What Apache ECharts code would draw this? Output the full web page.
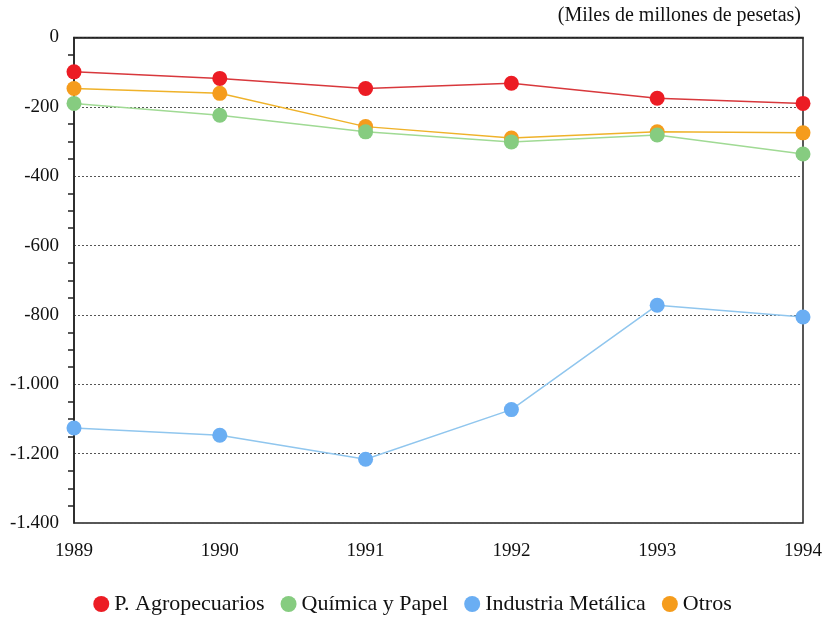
<!DOCTYPE html>
<html>
<head>
<meta charset="utf-8">
<script src="https://cdn.jsdelivr.net/npm/echarts@6/dist/echarts.min.js"></script>
<style>
  html, body { margin: 0; padding: 0; background: #fff; }
  #chart { width: 825px; height: 620px; }
</style>
</head>
<body>
<div id="chart"></div>
<script>
const years = ["1989", "1990", "1991", "1992", "1993", "1994"];
const agropecuarios = [-99, -118, -147, -132, -175, -190];
const quimicaPapel = [-190, -224, -272, -301, -281, -336];
const industriaMetalica = [-1126, -1147, -1216, -1073, -772, -806];
const otros = [-147, -161, -257, -290, -272, -275];

const serif = "Liberation Serif";

function fmt(v) {
  // miles con punto: -1.000
  const s = Math.abs(v).toString().replace(/\B(?=(\d{3})+(?!\d))/g, ".");
  return (v < 0 ? "-" : "") + s;
}

function line(name, data, color, lineColor, z) {
  return {
    name: name,
    type: "line",
    data: data,
    z: z,
    symbol: "circle",
    symbolSize: 15,
    itemStyle: { color: color },
    lineStyle: { color: lineColor, width: 1.5 }
  };
}

const chart = echarts.init(document.getElementById("chart"));
chart.setOption({
  animation: false,
  textStyle: { fontFamily: serif },
  grid: { left: 74, right: 22, top: 37.5, bottom: 97, show: true, borderColor: "#222", borderWidth: 1.5 },
  graphic: [{
    type: "text",
    right: 24,
    top: 6,
    style: { text: "(Miles de millones de pesetas)", font: "20px " + serif, fill: "#111" }
  }],
  legend: {
    bottom: 0,
    left: "center",
    icon: "circle",
    itemWidth: 16,
    itemHeight: 16,
    itemGap: 16,
    data: ["P. Agropecuarios", "Química y Papel", "Industria Metálica", "Otros"],
    textStyle: { fontFamily: serif, fontSize: 22, color: "#111" }
  },
  xAxis: {
    type: "category",
    data: years,
    boundaryGap: false,
    axisLine: { lineStyle: { color: "#222", width: 1.5 } },
    axisTick: { show: false },
    axisLabel: { fontFamily: serif, fontSize: 19, color: "#111", margin: 19 }
  },
  yAxis: {
    type: "value",
    min: -1400,
    max: 0,
    interval: 200,
    axisLine: { show: true, lineStyle: { color: "#222", width: 1.5 } },
    axisTick: { show: false },
    minorTick: { show: true, splitNumber: 4, length: 6, lineStyle: { color: "#222", width: 1.5 } },
    splitLine: { show: true, lineStyle: { color: "#555", type: [2, 2], width: 1 } },
    axisLabel: { fontFamily: serif, fontSize: 19, color: "#111", margin: 15, formatter: fmt }
  },
  series: [
    line("Otros", otros, "#f59c1c", "#efb22a", 1),
    line("P. Agropecuarios", agropecuarios, "#ec1c24", "#d8383c", 3),
    line("Química y Papel", quimicaPapel, "#86cc80", "#a0da94", 2),
    line("Industria Metálica", industriaMetalica, "#6aaef3", "#90c6ee", 2)
  ]
});
</script>
</body>
</html>
